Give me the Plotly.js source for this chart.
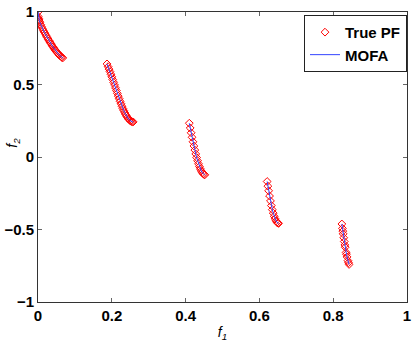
<!DOCTYPE html>
<html>
<head>
<meta charset="utf-8">
<script src="https://cdn.plot.ly/plotly-3.0.1.min.js"></script>
<style>
  html, body { margin: 0; padding: 0; background: #fff; }
  #plot { width: 415px; height: 346px; }
</style>
</head>
<body>
<div id="plot"></div>
<script>
// points of the front; null splits the five pieces
let f1 = [
  0, 0.001, 0.002, 0.003, 0.004, 0.005, 0.0075, 0.01, 0.0125, 0.015, 0.0175, 0.02, 0.0225, 0.025, 0.0275,
  0.03, 0.0325, 0.035, 0.0375, 0.04, 0.0425, 0.045, 0.0475, 0.05, 0.0525, 0.055, 0.0575, 0.06, 0.0625, 0.065, 0.067,
  null,
  0.187, 0.19, 0.1925, 0.195, 0.1975, 0.2, 0.2025, 0.205, 0.2075, 0.21, 0.2125, 0.215, 0.2175, 0.22, 0.2225,
  0.225, 0.2275, 0.23, 0.2325, 0.235, 0.2375, 0.24, 0.2425, 0.245, 0.2475, 0.25, 0.2525, 0.255, 0.258,
  null,
  0.41, 0.4125, 0.415, 0.4175, 0.42, 0.4225, 0.425, 0.4275, 0.43, 0.4325, 0.435, 0.4375, 0.44, 0.4425,
  0.445, 0.4475, 0.45, 0.452,
  null,
  0.621, 0.623, 0.625, 0.6275, 0.63, 0.6325, 0.635, 0.6375, 0.64, 0.6425, 0.645, 0.6475, 0.65, 0.652,
  null,
  0.8235, 0.825, 0.826, 0.827, 0.8285, 0.83, 0.8315, 0.8325, 0.835, 0.836, 0.8375, 0.84, 0.8415, 0.843
];
let f2 = [
  1, 0.968, 0.955, 0.945, 0.936, 0.928, 0.912, 0.897, 0.883, 0.871, 0.859, 0.847, 0.835, 0.824, 0.813,
  0.802, 0.792, 0.782, 0.772, 0.762, 0.752, 0.743, 0.735, 0.726, 0.719, 0.711, 0.704, 0.698, 0.692, 0.687, 0.683,
  null,
  0.642, 0.623, 0.606, 0.589, 0.571, 0.553, 0.534, 0.515, 0.496, 0.477, 0.458, 0.439, 0.420, 0.402, 0.384,
  0.367, 0.350, 0.334, 0.320, 0.306, 0.293, 0.282, 0.272, 0.263, 0.256, 0.25, 0.246, 0.243, 0.242,
  null,
  0.233, 0.200, 0.167, 0.136, 0.105, 0.076, 0.048, 0.021, -0.004, -0.026, -0.047, -0.066, -0.082, -0.096,
  -0.107, -0.115, -0.121, -0.123,
  null,
  -0.169, -0.201, -0.233, -0.269, -0.303, -0.335, -0.363, -0.387, -0.409, -0.426, -0.440, -0.450, -0.456, -0.458,
  null,
  -0.462, -0.492, -0.511, -0.530, -0.557, -0.583, -0.607, -0.622, -0.658, -0.671, -0.689, -0.715, -0.729, -0.741
];

let xTicks = [0, 0.2, 0.4, 0.6, 0.8, 1];
let xTickText = ["0", "0.2", "0.4", "0.6", "0.8", "1"];
let yTicks = [-1, -0.5, 0, 0.5, 1];
let yTickText = ["\u22121", "\u22120.5", "0", "0.5", "1"];

let trueTrace = {
    x: f1,
    y: f2,
    name: "True PF",
    mode: "markers",
    type: "scatter",
    marker: { symbol: "diamond-open", size: 6, color: "red", line: { width: 1, color: "red" } }
};

let mofaTrace = {
    x: f1,
    y: f2,
    name: "MOFA",
    mode: "lines",
    type: "scatter",
    connectgaps: false,
    line: { color: "#3344ff", width: 1 }
};

let fontFam = "Liberation Sans, Arial, sans-serif";
let tickFont = { family: fontFam, size: 15, color: "black", weight: "bold" };
let titleFont = { family: fontFam, size: 14, color: "black", style: "italic" };

let layout = {
    width: 415,
    height: 346,
    margin: { l: 38, r: 8, t: 12, b: 44 },
    paper_bgcolor: "white",
    plot_bgcolor: "white",
    showlegend: true,
    legend: {
        x: 1, y: 0.99, xanchor: "right", yanchor: "top",
        bordercolor: "#222", borderwidth: 1, bgcolor: "white",
        font: { family: fontFam, size: 15, color: "black", weight: "bold" },
        itemwidth: 30,
        tracegroupgap: 0
    },
    xaxis: {
        range: [0, 1],
        tickvals: xTicks,
        ticktext: xTickText,
        ticks: "inside",
        ticklen: 4,
        tickcolor: "#666",
        showline: true,
        linecolor: "#333",
        linewidth: 1,
        mirror: "allticks",
        showgrid: false,
        zeroline: false,
        tickfont: tickFont,
        title: { text: "f<sub>1</sub>", font: titleFont, standoff: 4 }
    },
    yaxis: {
        range: [-1, 1],
        tickvals: yTicks,
        ticktext: yTickText,
        ticks: "inside",
        ticklen: 4,
        tickcolor: "#666",
        showline: true,
        linecolor: "#333",
        linewidth: 1,
        mirror: "allticks",
        showgrid: false,
        zeroline: false,
        tickfont: tickFont
    },
    // f2 label sits over the tick column, like the original
    annotations: [{
        text: "f<sub>2</sub>",
        xref: "paper", yref: "paper",
        x: -0.07, y: 0.55,
        xanchor: "center", yanchor: "middle",
        textangle: -90,
        showarrow: false,
        font: titleFont
    }]
};

Plotly.newPlot("plot", [trueTrace, mofaTrace], layout, { displayModeBar: false, staticPlot: true });
</script>
</body>
</html>
